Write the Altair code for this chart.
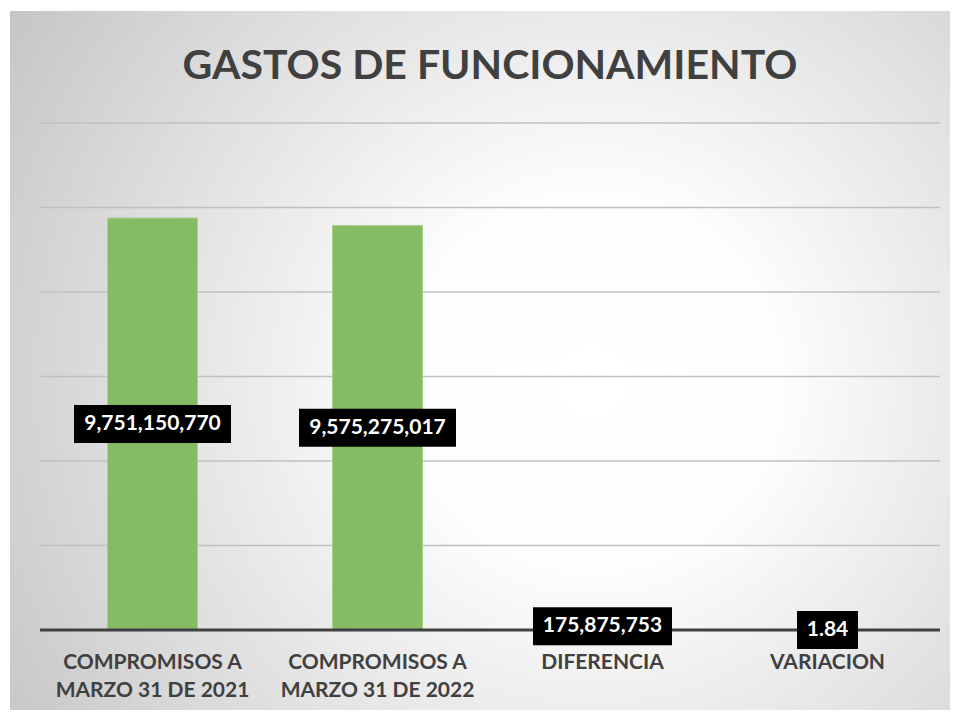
import altair as alt
import pandas as pd

# ---- data ----
categories = [
    "COMPROMISOS A MARZO 31 DE 2021",
    "COMPROMISOS A MARZO 31 DE 2022",
    "DIFERENCIA",
    "VARIACION",
]
values = [9751150770, 9575275017, 175875753, 1.84]
grid_values = [2e9, 4e9, 6e9, 8e9, 10e9, 12e9]
title_text = "GASTOS DE FUNCIONAMIENTO"

df = pd.DataFrame({"categoria": categories, "valor": values})
grid_df = pd.DataFrame({"v": grid_values})

W, H = 900, 507
FONT = "Lato"
DARK = "#404040"

x_enc = alt.X(
    "categoria:N",
    sort=categories,
    title=None,
    scale=alt.Scale(paddingInner=0.6, paddingOuter=0.3),
    axis=alt.Axis(
        labelAngle=0,
        labelFont=FONT,
        labelFontWeight="bold",
        labelFontSize=21,
        labelColor=DARK,
        labelLimit=400,
        labelPadding=21,
        labelBaseline="top",
        labelLineHeight=28,
        labelExpr="indexof(datum.label, ' A ') > 0 ? [substring(datum.label, 0, 13), substring(datum.label, 14)] : datum.label",
        ticks=False,
        domain=False,
        grid=False,
        zindex=1,
    ),
)

y_scale = alt.Scale(domain=[0, 12e9], nice=False, zero=True)

gradient = alt.RadialGradient(
    gradient="radial",
    stops=[
        alt.GradientStop(offset=0, color="#ffffff"),
        alt.GradientStop(offset=0.25, color="#fefefe"),
        alt.GradientStop(offset=1, color="#c3c3c3"),
    ],
    x1=0.62, y1=0.52, r1=0,
    x2=0.62, y2=0.52, r2=0.76,
)

background = alt.Chart(alt.Data(values=[{}])).mark_rect(fill=gradient).encode(
    x=alt.value(-30), x2=alt.value(910), y=alt.value(-112), y2=alt.value(592)
)

gridlines = alt.Chart(grid_df).mark_rule(color="#c0c0c0", strokeWidth=1.5).encode(
    y=alt.Y("v:Q", scale=y_scale, axis=None),
    x=alt.value(0),
    x2=alt.value(W),
)

baseline = alt.Chart(alt.Data(values=[{}])).mark_rule(color=DARK, strokeWidth=3).encode(
    y=alt.Y(datum=0, scale=y_scale, axis=None),
    x=alt.value(0),
    x2=alt.value(W),
)

base = alt.Chart(df).transform_calculate(
    mid="datum.valor / 2",
    etiqueta="datum.valor < 100 ? format(datum.valor, '.2f') : format(datum.valor, ',.0f')",
).transform_calculate(
    punct="length(split(datum.etiqueta, ',')) - 1 + length(split(datum.etiqueta, '.')) - 1",
).transform_calculate(
    ancho="12 * (length(datum.etiqueta) - datum.punct) + 6 * datum.punct + 19",
)

bars = base.mark_bar(color="#85BB62", stroke="#A9D18E", strokeWidth=1).encode(
    x=x_enc,
    y=alt.Y("valor:Q", scale=y_scale, axis=None),
)

boxes = base.mark_bar(color="black", yOffset=-19, y2Offset=19).encode(
    x=x_enc,
    y=alt.Y("mid:Q", scale=y_scale, axis=None),
    y2="mid:Q",
    size=alt.Size("ancho:Q", scale=None, legend=None),
)

labels = base.mark_text(
    font=FONT, fontWeight="bold", fontSize=21, color="white", baseline="middle"
).encode(
    x=x_enc,
    y=alt.Y("mid:Q", scale=y_scale, axis=None),
    text="etiqueta:N",
)

chart = alt.layer(background, gridlines, bars, baseline, boxes, labels).properties(
    width=W,
    height=H,
    autosize=alt.AutoSizeParams(type="none"),
    padding={"left": 32, "top": 115, "right": 10, "bottom": 80},
    title=alt.TitleParams(
        text=title_text,
        font=FONT,
        fontWeight="bold",
        fontSize=41,
        color=DARK,
        anchor="middle",
        frame="group",
        baseline="alphabetic",
        offset=-109,
    ),
).configure_view(stroke=None).configure(background="white")

chart.save("out.html", embed_options={"renderer": "svg", "actions": False})
